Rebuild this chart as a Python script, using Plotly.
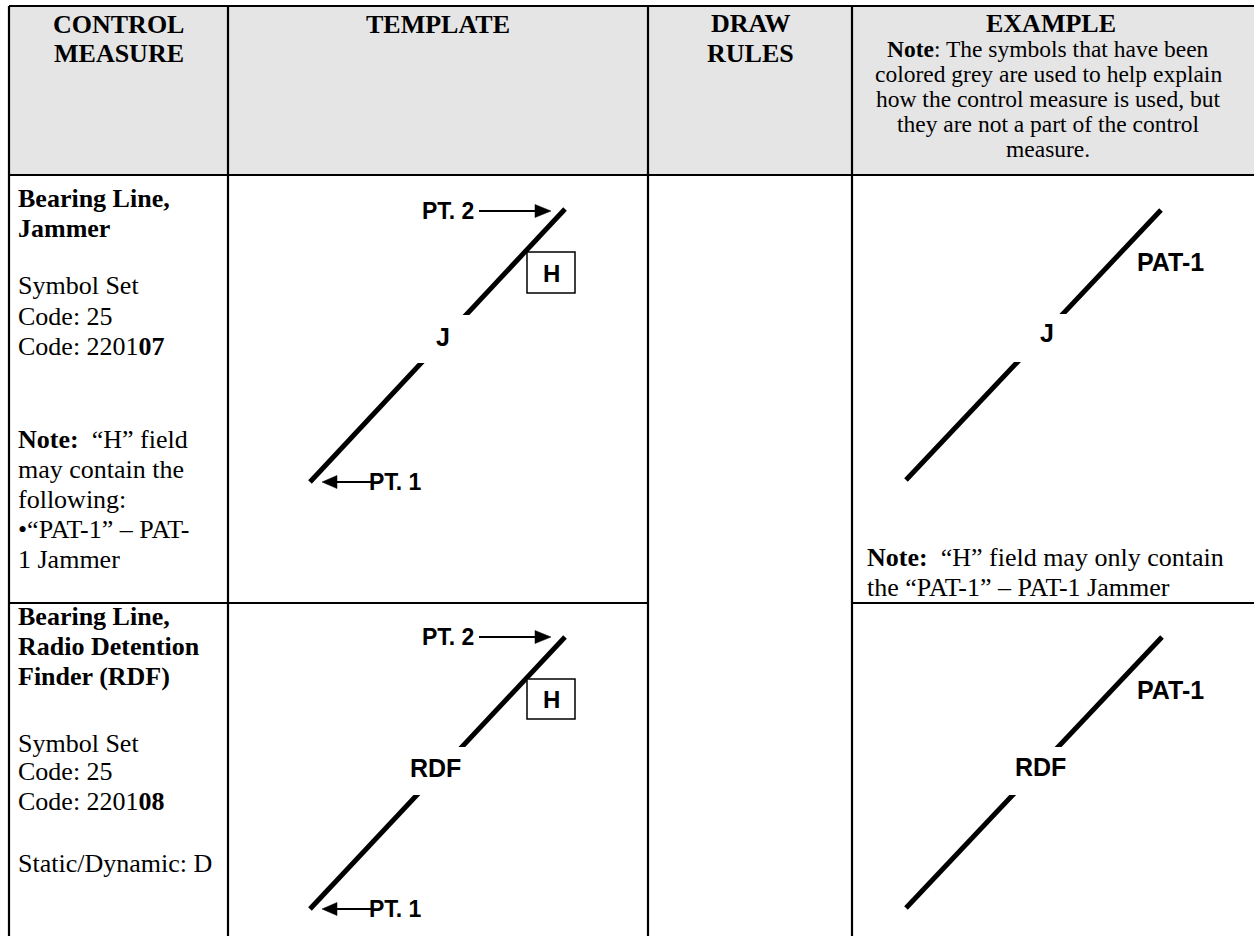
import plotly.graph_objects as go

# ---------------- data ----------------
W, H = 1254, 936
col_edges = [9, 228, 648, 852, 1254]
row_edges = [6, 175, 603, 936]

header_titles = [["CONTROL", "MEASURE"], ["TEMPLATE"], ["DRAW", "RULES"], ["EXAMPLE"]]
header_baselines = [[33, 62], [33], [32, 62], [32]]
header_note = ["<b>Note</b>: The symbols that have been",
               "colored grey are used to help explain",
               "how the control measure is used, but",
               "they are not a part of the control",
               "measure."]
header_note_baselines = [57, 82, 107, 132, 157]

row1_text = ["<b>Bearing Line,</b>", "<b>Jammer</b>", "Symbol Set", "Code: 25", "Code: 2201<b>07</b>",
             "<b>Note:</b>\u00a0 “H” field", "may contain the", "following:", "•“PAT-1” – PAT-", "1 Jammer"]
row1_baselines = [207, 237, 294, 325, 355, 448, 478, 508, 538, 568]
row2_text = ["<b>Bearing Line,</b>", "<b>Radio Detention</b>", "<b>Finder (RDF)</b>", "Symbol Set", "Code: 25",
             "Code: 2201<b>08</b>", "Static/Dynamic: D"]
row2_baselines = [625, 655, 685, 752, 780, 810, 872]

example_note = ["<b>Note:</b>\u00a0 “H” field may only contain", "the “PAT-1” – PAT-1 Jammer"]
example_note_baselines = [566, 596]

# bearing line geometry per row: (x1, y1, x2, y2)
template_lines = [(310, 482, 565, 209), (310, 909, 565, 637)]
example_lines = [(906, 480, 1161, 210), (906, 908, 1162, 637)]
template_gaps = [(315, 363), (747, 795)]
example_gaps = [(314, 362), (747, 795)]
mid_labels = ["J", "RDF"]
template_label_pos = [(443, 337), (435, 768)]
example_label_pos = [(1047, 333), (1040, 767)]
pat_label_pos = [(1170, 262), (1170, 690)]
h_boxes = [(527, 252, 575, 293), (527, 679, 575, 719)]
pt2_y = [211, 637]
pt1_y = [482, 909]

SERIF = "Liberation Serif, Times New Roman, serif"
SANS = "Liberation Sans, Arial, sans-serif"

fig = go.Figure()
fig.add_trace(go.Scatter(x=[0, W], y=[0, H], mode="markers", marker=dict(opacity=0), hoverinfo="skip",
                         showlegend=False))

shapes = []
annos = []


def text(x, baseline, s, size, family=SERIF, anchor="left"):
    annos.append(dict(x=x, y=baseline - 0.338 * size, text=s, showarrow=False, xanchor=anchor,
                      yanchor="middle", font=dict(family=family, size=size, color="black"),
                      borderpad=0))


# header background
shapes.append(dict(type="rect", x0=col_edges[0], x1=col_edges[-1], y0=row_edges[0], y1=row_edges[1],
                   fillcolor="#e5e5e5", line=dict(width=0), layer="below"))

# header text
for i, lines in enumerate(header_titles):
    cx = (col_edges[i] + col_edges[i + 1]) / 2
    if i == 3:
        cx = 1051
    for s, b in zip(lines, header_baselines[i]):
        text(cx, b, "<b>" + s + "</b>", 26, anchor="center")
for s, b in zip(header_note, header_note_baselines):
    text(1048, b, s, 23.5, anchor="center")

for s, b in zip(row1_text, row1_baselines):
    text(17, b, s, 26)
for s, b in zip(row2_text, row2_baselines):
    text(17, b, s, 26)
for s, b in zip(example_note, example_note_baselines):
    text(866, b, s, 26)

# bearing lines
BLK = "black"
for lines, gaps, lpos in [(template_lines, template_gaps, template_label_pos),
                          (example_lines, example_gaps, example_label_pos)]:
    for r in range(2):
        x1, y1, x2, y2 = lines[r]
        shapes.append(dict(type="line", x0=x1, y0=y1, x1=x2, y1=y2, line=dict(color=BLK, width=5)))
        g0, g1 = gaps[r]
        # white cut around mid label
        t0 = (g0 - y1) / (y2 - y1)
        t1 = (g1 - y1) / (y2 - y1)
        xa = x1 + t0 * (x2 - x1)
        xb = x1 + t1 * (x2 - x1)
        shapes.append(dict(type="rect", x0=min(xa, xb) - 12, x1=max(xa, xb) + 12, y0=g0, y1=g1,
                           fillcolor="white", line=dict(width=0)))
        lx, ly = lpos[r]
        annos.append(dict(x=lx, y=ly, text="<b>" + mid_labels[r] + "</b>", showarrow=False,
                          xanchor="center", yanchor="middle", font=dict(family=SANS, size=25, color=BLK)))

for r in range(2):
    # PAT-1 labels in example
    px, py = pat_label_pos[r]
    annos.append(dict(x=px, y=py, text="<b>PAT-1</b>", showarrow=False, xanchor="center", yanchor="middle",
                      font=dict(family=SANS, size=25, color=BLK)))
    # H box
    bx0, by0, bx1, by1 = h_boxes[r]
    shapes.append(dict(type="rect", x0=bx0, y0=by0, x1=bx1, y1=by1, line=dict(color=BLK, width=1.5),
                       fillcolor="white"))
    annos.append(dict(x=(bx0 + bx1) / 2, y=(by0 + by1) / 2 + 0.5, text="<b>H</b>", showarrow=False,
                      xanchor="center", yanchor="middle", font=dict(family=SANS, size=24, color=BLK)))
    # PT. 2 label + arrow
    y = pt2_y[r]
    annos.append(dict(x=476, y=y, text="<b>PT. 2</b>", showarrow=False, xanchor="right", yanchor="middle",
                      font=dict(family=SANS, size=23, color=BLK)))
    shapes.append(dict(type="line", x0=479, x1=538, y0=y, y1=y, line=dict(color=BLK, width=2)))
    shapes.append(dict(type="path", path=f"M 551 {y} L 535 {y-6.5} L 535 {y+6.5} Z", fillcolor=BLK,
                       line=dict(color=BLK, width=0.5)))
    # PT. 1 label + arrow
    y = pt1_y[r]
    annos.append(dict(x=367, y=y, text="<b>PT. 1</b>", showarrow=False, xanchor="left", yanchor="middle",
                      font=dict(family=SANS, size=23, color=BLK)))
    shapes.append(dict(type="line", x0=334, x1=371, y0=y, y1=y, line=dict(color=BLK, width=2)))
    shapes.append(dict(type="path", path=f"M 322 {y} L 337 {y-6.5} L 337 {y+6.5} Z", fillcolor=BLK,
                       line=dict(color=BLK, width=0.5)))

# table grid
LW = 2.2
shapes.append(dict(type="line", x0=col_edges[0], x1=col_edges[-1], y0=row_edges[0], y1=row_edges[0],
                   line=dict(color=BLK, width=LW)))
shapes.append(dict(type="line", x0=col_edges[0], x1=col_edges[-1], y0=row_edges[1], y1=row_edges[1],
                   line=dict(color=BLK, width=LW)))
shapes.append(dict(type="line", x0=col_edges[0], x1=col_edges[2], y0=row_edges[2], y1=row_edges[2],
                   line=dict(color=BLK, width=LW)))
shapes.append(dict(type="line", x0=col_edges[3], x1=col_edges[-1], y0=row_edges[2], y1=row_edges[2],
                   line=dict(color=BLK, width=LW)))
for xe in col_edges[:4]:
    shapes.append(dict(type="line", x0=xe, x1=xe, y0=row_edges[0], y1=row_edges[-1],
                       line=dict(color=BLK, width=LW)))

fig.update_layout(
    width=W, height=H, margin=dict(l=0, r=0, t=0, b=0),
    plot_bgcolor="white", paper_bgcolor="white",
    xaxis=dict(range=[0, W], visible=False, fixedrange=True),
    yaxis=dict(range=[H, 0], visible=False, fixedrange=True),
    shapes=shapes, annotations=annos, showlegend=False,
)
fig.write_html("out.html", config={"displayModeBar": False},
               post_script="document.body.style.margin='0';document.body.style.padding='0';")
